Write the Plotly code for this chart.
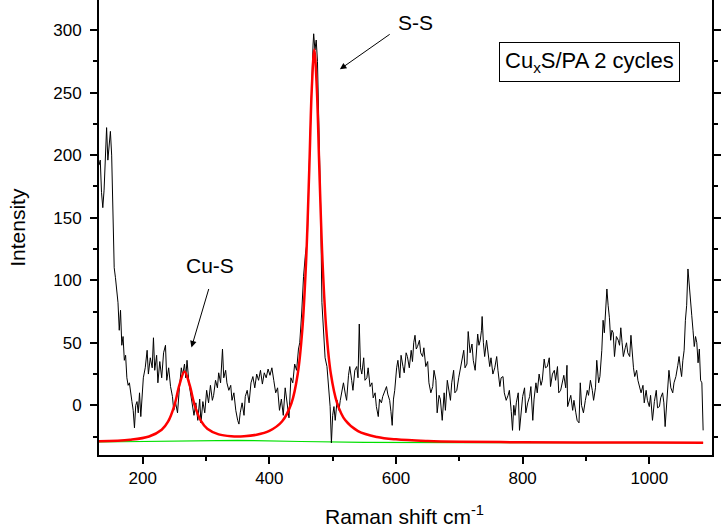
import plotly.graph_objects as go

# Raman spectrum (black trace)
raman_x = [131,133,135,137,139,141,143,145,147,149,151,153,155,157,159,161,163,165,167,169,171,173,175,177,179,181,183,185,187,189,191,193,195,197,199,
           201,204,207,209,212,215,217,219,222,224,227,230,233,236,238,241,244,247,249,252,255,258,261,263,266,268,270,273,276,279,281,284,287,290,292,295,298,
           301,304,307,310,312,315,318,320,323,326,328,331,333,336,339,341,344,347,350,352,354,357,360,362,365,368,371,374,377,380,383,386,389,392,395,398,
           401,404,407,410,413,416,419,422,425,428,431,434,437,440,443,446,448,451,454,457,460,462,465,467,469,470,472,474,476,478,481,483,486,488,491,494,496,498,
           500,502,504,507,510,512,515,517,520,522,525,527,530,532,535,538,540,542,544,546,549,551,554,556,559,562,564,567,569,572,574,577,579,582,585,587,590,592,594,596,598,
           601,603,606,608,611,613,616,618,621,624,626,628,630,632,634,637,639,642,644,647,650,652,655,658,660,663,665,668,670,673,676,678,681,683,686,688,691,693,696,699,
           701,704,707,709,712,714,717,720,722,725,727,729,731,733,735,736,738,740,743,745,748,750,753,756,759,761,764,766,769,771,774,777,779,782,784,786,788,790,793,795,797,
           800,803,805,808,811,813,816,818,821,823,826,829,831,834,836,839,842,844,847,850,852,855,857,860,863,865,868,870,871,874,876,879,881,884,886,889,891,893,896,899,
           902,904,907,910,912,915,917,920,922,925,927,929,931,933,935,937,939,941,943,945,948,951,953,955,957,959,962,964,966,969,971,973,975,977,980,982,985,987,990,992,995,997,
           1000,1002,1005,1008,1011,1013,1016,1018,1021,1023,1025,1028,1031,1034,1037,1039,1042,1045,1047,1049,1051,1053,1055,1057,1059,1061,1063,1065,1067,1069,1071,1073,1075,1077,1079,1081,1083,1085]
raman_y = [192,196,170,158,172,205,222,196,212,219,200,150,110,102,90,82,60,76,48,55,36,40,22,16,18,8,3,-4,-18,0,3,-6,10,-9,12,
           22,30,44,25,38,30,54,28,40,18,35,22,42,48,20,30,15,7,-4,2,-6,14,30,24,33,22,36,18,8,-5,-8,2,-12,5,-14,3,-6,
           12,2,16,4,8,20,14,26,18,45,22,28,18,12,16,4,10,-4,-12,-15,-6,2,-8,7,12,2,18,23,14,25,20,28,17,26,22,29,
           24,30,20,10,14,-4,5,-8,14,1,-10,22,18,33,28,45,50,73,103,121,132,175,228,268,288,297,284,292,275,228,159,82,52,38,31,12,-1,-30,
           -8,-1,-12,4,-4,4,12,18,9,4,24,31,20,12,28,31,22,65,30,25,38,20,22,30,15,18,6,10,-1,-9,5,2,7,12,15,9,4,-5,-16,5,12,
           30,36,22,40,31,26,42,39,30,44,35,50,56,45,47,52,42,39,46,31,35,18,10,15,28,20,-6,8,5,-12,10,-4,20,12,4,18,28,10,12,22,
           28,36,44,30,33,59,42,49,36,28,45,57,48,52,60,71,50,39,52,44,31,38,25,30,39,28,15,22,23,10,4,8,12,-5,-20,0,-8,2,10,-20,-6,
           7,14,-6,2,7,15,-12,5,18,10,25,16,20,37,30,31,38,15,25,28,20,31,10,12,18,24,14,32,-1,6,8,-4,4,-6,-12,-14,18,0,-6,4,
           12,8,20,12,4,14,36,18,23,44,68,58,75,93,80,70,52,60,58,39,55,52,48,62,50,39,46,50,42,39,56,40,30,23,28,20,14,10,16,2,12,4,
           -1,8,-12,3,12,-2,-1,6,10,2,-17,8,28,14,10,18,23,32,39,30,23,36,44,68,80,109,98,89,72,60,47,55,50,34,45,20,18,-20]

# Fitted curve (red)
fit_x = [131,180,210,230,240,250,258,266,274,282,292,302,320,340,360,380,400,420,435,445,452,458,463,467,471,475,479,484,490,497,507,520,540,570,600,650,700,800,900,1000,1085]
fit_y = [-28.8,-27.5,-24.9,-19.5,-13.1,-0.2,16.3,27.1,16.5,0.2,-12.5,-18.7,-23.2,-24.7,-24.7,-23.5,-20.4,-12.9,1.9,25.7,60,114.9,187.9,253,284.5,253,187.8,114.8,59.9,25.6,1.8,-12,-20.6,-25.3,-27.2,-28.5,-29.1,-29.5,-29.7,-29.8,-29.9]

# Baseline (green)
base_x = [131,250,350,450,550,700,1085]
base_y = [-29.3,-28.6,-28.0,-28.9,-29.6,-29.8,-29.9]

FONT = "Arial, Liberation Sans, sans-serif"

fig = go.Figure()
fig.add_trace(go.Scatter(x=base_x, y=base_y, mode="lines", line=dict(color="#00e000", width=1.2), showlegend=False))
fig.add_trace(go.Scatter(x=raman_x, y=raman_y, mode="lines", line=dict(color="black", width=1), showlegend=False))
fig.add_trace(go.Scatter(x=fit_x, y=fit_y, mode="lines", line=dict(color="#ff0000", width=2.5, shape="spline", smoothing=1.0), showlegend=False))

fig.update_layout(
    width=721, height=528,
    margin=dict(l=99, r=1, t=0, b=73),
    plot_bgcolor="white", paper_bgcolor="white",
    font=dict(family=FONT, size=17, color="black"),
    xaxis=dict(range=[131, 1099], tick0=0, dtick=200, ticks="outside", ticklen=7, tickwidth=1.5,
               tickcolor="black", showline=True, linecolor="black", linewidth=2, showgrid=False,
               zeroline=False, tickfont=dict(size=17),
               minor=dict(dtick=100, ticks="outside", ticklen=4, tickwidth=1.5, tickcolor="black", showgrid=False)),
    yaxis=dict(range=[-39.7, 324], tick0=0, dtick=50, ticks="outside", ticklen=7, tickwidth=1.5,
               tickcolor="black", showline=True, linecolor="black", linewidth=2, showgrid=False,
               zeroline=False, mirror="ticks", tickfont=dict(size=17), ticklabelstandoff=5,
               minor=dict(dtick=25, ticks="outside", ticklen=4, tickwidth=1.5, tickcolor="black", showgrid=False)),
)

ann = []
# axis titles
ann.append(dict(text="Raman shift cm<sup>-1</sup>", xref="paper", yref="paper", x=(408-99)/621, y=(455-530)/455,
                xanchor="center", yanchor="bottom", showarrow=False, font=dict(size=21)))
ann.append(dict(text="Intensity", xref="paper", yref="paper", x=(2-99)/621, y=(455-227)/455, textangle=-90,
                xanchor="left", yanchor="middle", showarrow=False, font=dict(size=21)))
# peak labels
ann.append(dict(text="S-S", x=630.6, y=305.8, xref="x", yref="y", showarrow=False, font=dict(size=21)))
ann.append(dict(text="Cu-S", x=307, y=111.7, xref="x", yref="y", showarrow=False, font=dict(size=21)))
# arrows
ann.append(dict(text="", x=511.4, y=268.6, ax=592.4, ay=297.4, xref="x", yref="y", axref="x", ayref="y",
                showarrow=True, arrowhead=2, arrowsize=1.3, arrowwidth=1, arrowcolor="black", standoff=0))
ann.append(dict(text="", x=277, y=46.3, ax=305, ay=94.2, xref="x", yref="y", axref="x", ayref="y",
                showarrow=True, arrowhead=2, arrowsize=1.3, arrowwidth=1, arrowcolor="black", standoff=0))
# sample box
ann.append(dict(text="Cu<sub>x</sub>S/PA 2 cycles", x=905, y=274.6, xref="x", yref="y", showarrow=False,
                font=dict(size=22), bordercolor="black", borderwidth=1, borderpad=5, bgcolor="white"))
fig.update_layout(annotations=ann)

fig.write_html("out.html")
